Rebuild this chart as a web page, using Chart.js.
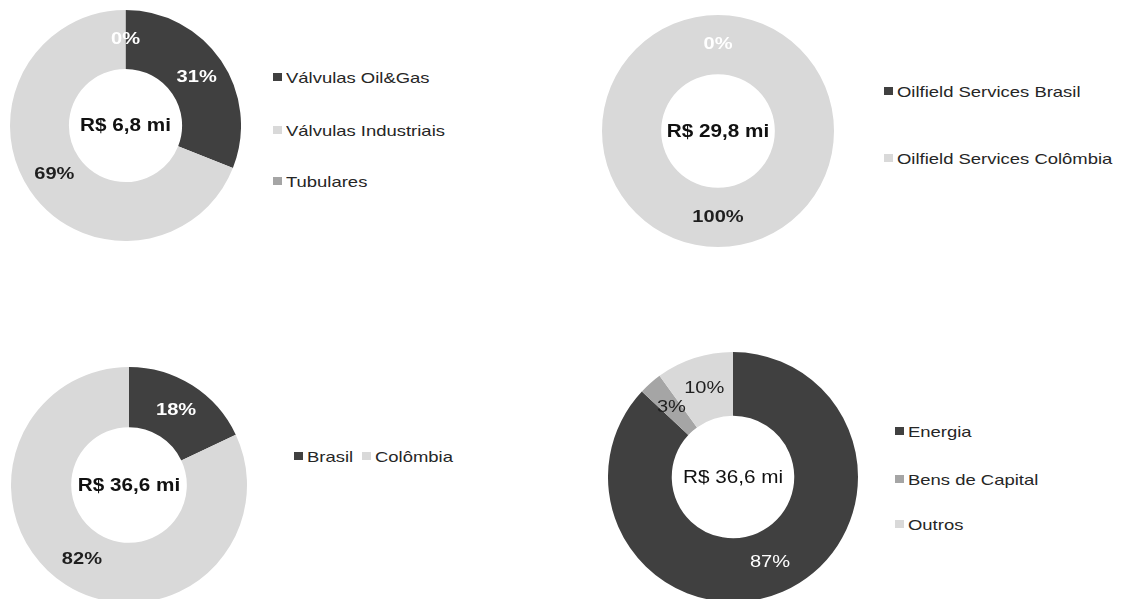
<!DOCTYPE html>
<html lang="pt-BR">
<head>
<meta charset="utf-8">
<script src="https://cdn.jsdelivr.net/npm/chart.js@4.4.0/dist/chart.umd.min.js"></script>
<style>
html, body { margin: 0; padding: 0; background: #fff; }
body { width: 1126px; height: 599px; overflow: hidden; position: relative; font-family: "Liberation Sans", Arial, sans-serif; }
.donut { position: absolute; }
.legend { position: absolute; font-size: 15px; color: #262626; white-space: nowrap; }
.legend .item { position: absolute; display: flex; align-items: center; height: 18px; }
.legend .box { width: 9px; height: 8px; margin-right: 4px; }
.legend .txt { display: inline-block; transform: scaleX(1.23); transform-origin: 0 50%; }
</style>
</head>
<body>
<div class="donut" style="left:10px;top:10px;width:231px;height:231px"><canvas id="dnSegmento"></canvas></div>
<div class="donut" style="left:602px;top:15px;width:232px;height:232px"><canvas id="dnOilfield"></canvas></div>
<div class="donut" style="left:11px;top:367px;width:236px;height:236px"><canvas id="dnPais"></canvas></div>
<div class="donut" style="left:608px;top:352px;width:250px;height:250px"><canvas id="dnSetor"></canvas></div>

<div class="legend" id="lgSegmento" style="left:0;top:0"></div>
<div class="legend" id="lgOilfield" style="left:0;top:0"></div>
<div class="legend" id="lgPais" style="left:0;top:0"></div>
<div class="legend" id="lgSetor" style="left:0;top:0"></div>

<script>
// receita por segmento
var segmentoLabels = ['Válvulas Oil&Gas', 'Válvulas Industriais', 'Tubulares'];
var segmentoValues = [31, 69, 0];

var oilfieldLabels = ['Oilfield Services Brasil', 'Oilfield Services Colômbia'];
var oilfieldValues = [0, 100];

var paisLabels = ['Brasil', 'Colômbia'];
var paisValues = [18, 82];

var setorLabels = ['Energia', 'Bens de Capital', 'Outros'];
var setorValues = [87, 3, 10];

var totais = ['R$ 6,8 mi', 'R$ 29,8 mi', 'R$ 36,6 mi', 'R$ 36,6 mi'];

var escuro = '#404040', claro = '#d9d9d9', medio = '#a5a5a5';

// texto esticado na horizontal, como no original
function wideText(ctx, txt, x, y, sx) {
    ctx.save();
    ctx.translate(x, y);
    ctx.scale(sx, 1);
    ctx.fillText(txt, 0, 0);
    ctx.restore();
}

var donutText = {
    id: 'donutText',
    afterDatasetsDraw: function (chart, args, opts) {
        var ctx = chart.ctx;
        var ds = chart.data.datasets[0];
        var total = ds.data.reduce(function (a, b) { return a + b; }, 0);
        var arcs = chart.getDatasetMeta(0).data;
        ctx.save();
        ctx.textAlign = 'center';
        ctx.textBaseline = 'middle';
        ctx.font = opts.labelFont;
        arcs.forEach(function (arc, i) {
            var p = arc.getProps(['x', 'y', 'startAngle', 'endAngle', 'innerRadius', 'outerRadius'], true);
            var a = (p.startAngle + p.endAngle) / 2;
            var r = (p.innerRadius + p.outerRadius) / 2;
            ctx.fillStyle = opts.labelColors[i];
            wideText(ctx, Math.round(ds.data[i] / total * 100) + '%', p.x + Math.cos(a) * r, p.y + Math.sin(a) * r, 1.18);
        });
        var c = arcs[0].getProps(['x', 'y'], true);
        ctx.font = opts.centerFont;
        ctx.fillStyle = '#111';
        wideText(ctx, opts.centerText, c.x, c.y + 1, 1.15);
        ctx.restore();
    }
};

function donut(id, labels, values, colors, labelColors, centerText, weight) {
    return new Chart(document.getElementById(id).getContext('2d'), {
        type: 'doughnut',
        data: {
            labels: labels,
            datasets: [{
                data: values,
                backgroundColor: colors,
                borderWidth: 0
            }]
        },
        options: {
            responsive: true,
            maintainAspectRatio: false,
            animation: false,
            cutout: '49%',
            layout: { padding: 0 },
            plugins: {
                legend: { display: false },
                tooltip: { enabled: false },
                donutText: {
                    labelColors: labelColors,
                    labelFont: weight + ' 17px "Liberation Sans", Arial, sans-serif',
                    centerFont: weight + ' 18px "Liberation Sans", Arial, sans-serif',
                    centerText: centerText
                }
            }
        },
        plugins: [donutText]
    });
}

// legenda em html, a partir dos mesmos rótulos
function legend(id, labels, colors, xs, ys) {
    var box = document.getElementById(id);
    labels.forEach(function (txt, i) {
        var it = document.createElement('div');
        it.className = 'item';
        it.style.left = xs[i] + 'px';
        it.style.top = (ys[i] - 9) + 'px';
        var sq = document.createElement('span');
        sq.className = 'box';
        sq.style.background = colors[i];
        var t = document.createElement('span');
        t.className = 'txt';
        t.textContent = txt;
        it.appendChild(sq);
        it.appendChild(t);
        box.appendChild(it);
    });
}

var segCores = [escuro, claro, medio];
var oilCores = [escuro, claro];
var paisCores = [escuro, claro];
var setorCores = [escuro, medio, claro];

donut('dnSegmento', segmentoLabels, segmentoValues, segCores, ['#fff', '#1f1f1f', '#fff'], totais[0], 'bold');
donut('dnOilfield', oilfieldLabels, oilfieldValues, oilCores, ['#fff', '#1f1f1f'], totais[1], 'bold');
donut('dnPais', paisLabels, paisValues, paisCores, ['#fff', '#1f1f1f'], totais[2], 'bold');
donut('dnSetor', setorLabels, setorValues, setorCores, ['#fff', '#1f1f1f', '#1f1f1f'], totais[3], 'normal');

legend('lgSegmento', segmentoLabels, segCores, [273, 273, 273], [77, 130, 181]);
legend('lgOilfield', oilfieldLabels, oilCores, [884, 884], [91, 158]);
legend('lgPais', paisLabels, paisCores, [294, 362], [456, 456]);
legend('lgSetor', setorLabels, setorCores, [895, 895, 895], [431, 479, 524]);
</script>
</body>
</html>
